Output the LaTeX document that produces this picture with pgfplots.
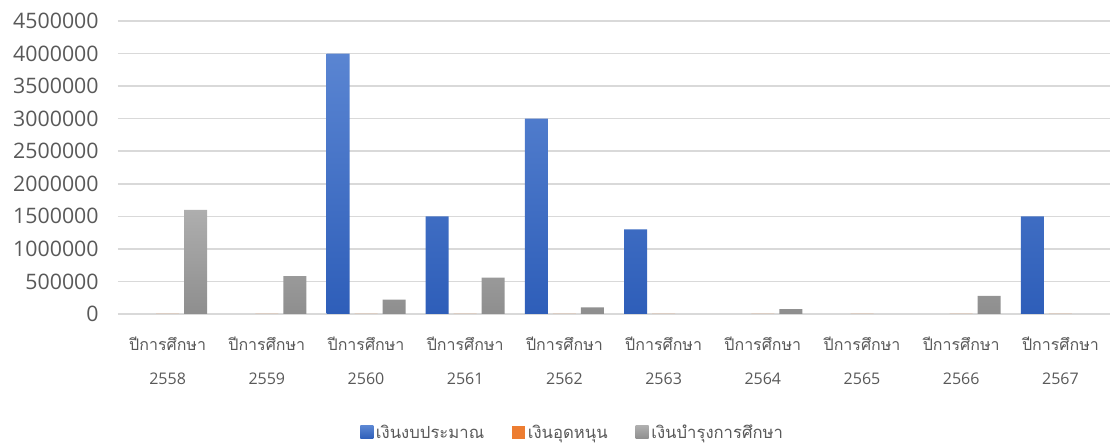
\documentclass[border=0pt]{standalone}
\usepackage{fontspec}
\setmainfont{Open Sans}
\newfontfamily\thai[Script=Thai]{Loma}
\usepackage{pgfplots}
\pgfplotsset{compat=1.18}
\definecolor{gridc}{HTML}{D9D9D9}
\definecolor{txt}{HTML}{595959}
\definecolor{bluetop}{HTML}{5A85D2}
\definecolor{bluebot}{HTML}{2E5EB9}
\definecolor{orangec}{HTML}{ED7D31}
\definecolor{graytop}{HTML}{AEAEAE}
\definecolor{graybot}{HTML}{8E8E8E}

\begin{document}
\begin{tikzpicture}
\useasboundingbox (0,0) rectangle (837.75pt,334.5pt);
\begin{axis}[
    at={(88.5pt,99pt)}, anchor=south west,
    scale only axis,
    width=744pt, height=219.75pt,
    ybar=3.75pt, bar width=17.25pt,
    xmin=-0.5, xmax=9.5,
    ymin=0, ymax=4500000,
    xtick={0,1,2,3,4,5,6,7,8,9},
    xticklabels={
        {{\thai ปีการศึกษา}\\2558},{{\thai ปีการศึกษา}\\2559},
        {{\thai ปีการศึกษา}\\2560},{{\thai ปีการศึกษา}\\2561},
        {{\thai ปีการศึกษา}\\2562},{{\thai ปีการศึกษา}\\2563},
        {{\thai ปีการศึกษา}\\2564},{{\thai ปีการศึกษา}\\2565},
        {{\thai ปีการศึกษา}\\2566},{{\thai ปีการศึกษา}\\2567}},
    xticklabel style={anchor=north, align=center, text=txt,
        font=\fontsize{12}{25.5}\selectfont, yshift=-14pt},
    ytick={0,500000,1000000,1500000,2000000,2500000,3000000,3500000,4000000,4500000},
    scaled y ticks=false,
    yticklabel style={/pgf/number format/fixed, /pgf/number format/1000 sep={},
        /pgf/number format/assume math mode=true,
        font=\fontsize{16}{16}\selectfont, text=txt, xshift=-11pt},
    major tick length=0pt,
    axis line style={draw=none},
    ymajorgrids, grid style={draw=gridc, line width=1.2pt},
    legend style={at={(0.4587,-0.404)}, anchor=center, draw=none,
        inner sep=1pt,
        legend columns=3, font=\thai\fontsize{12.5}{14}\selectfont, text=txt,
        /tikz/every even column/.append style={column sep=19pt}},
    legend cell align=left,
    legend image code/.code={\path[#1,draw=none] (0pt,-4.875pt) rectangle (9.75pt,4.875pt);},
]
% เงินงบประมาณ
\addplot[draw=none, top color=bluetop, bottom color=bluebot]
    coordinates {(2,4000000) (3,1500000) (4,3000000) (5,1300000) (9,1500000)};
\addlegendentry{เงินงบประมาณ}
% เงินอุดหนุน (all zero)
\addplot[draw=none, fill=orangec]
    coordinates {(0,0) (1,0) (2,0) (3,0) (4,0) (5,0) (6,0) (7,0) (8,0) (9,0)};
\addlegendentry{เงินอุดหนุน}
% เงินบำรุงการศึกษา
\addplot[draw=none, top color=graytop, bottom color=graybot]
    coordinates {(0,1600000) (1,580000) (2,220000) (3,560000) (4,100000) (6,75000) (8,280000)};
\addlegendentry{เงินบำรุงการศึกษา}
\end{axis}
\end{tikzpicture}
\end{document}
